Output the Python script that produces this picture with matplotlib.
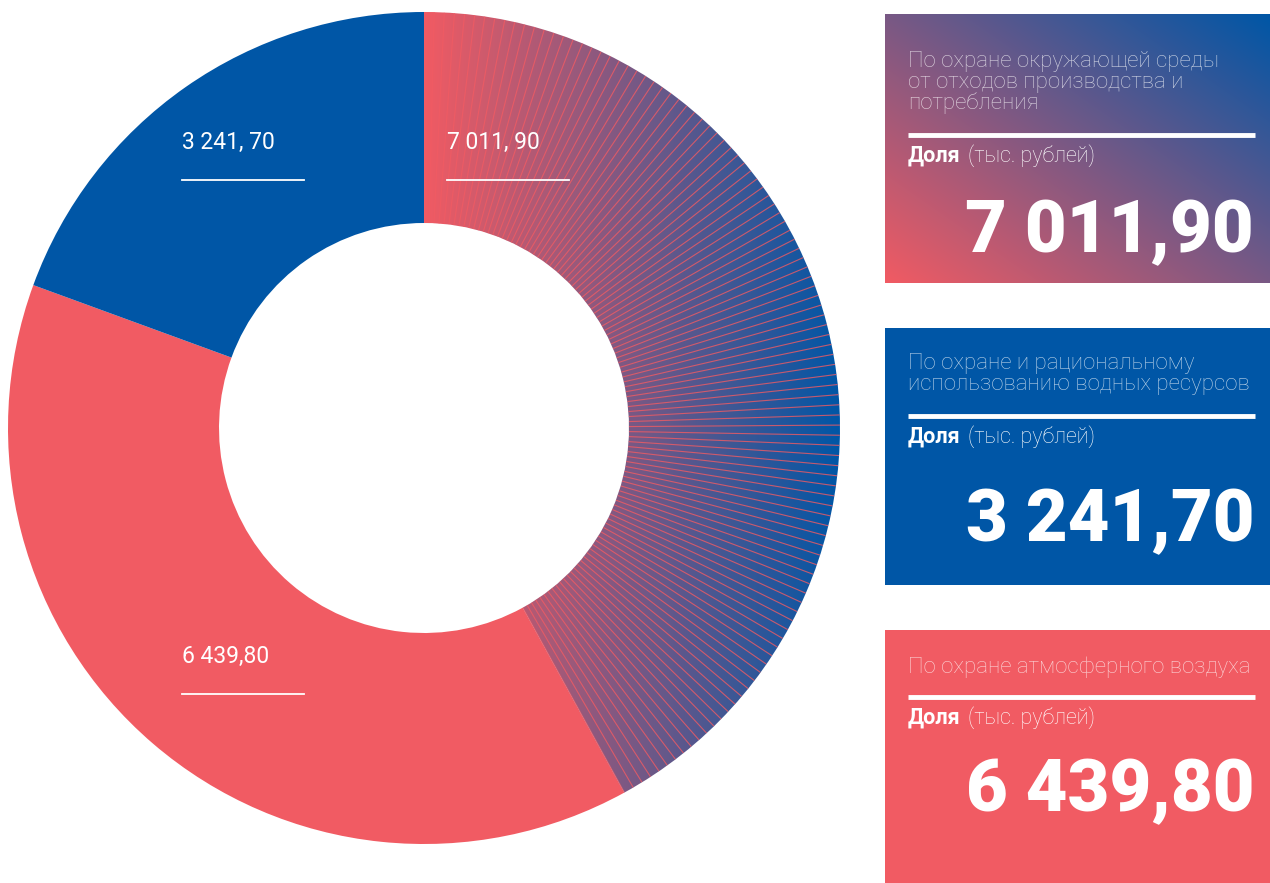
import matplotlib
matplotlib.use('Agg')
import matplotlib.pyplot as plt
import numpy as np
from matplotlib.patches import Wedge, Rectangle
from matplotlib.collections import LineCollection
from matplotlib.colors import to_rgb

# data
categories = ['По охране окружающей среды\nот отходов производства и\nпотребления',
              'По охране атмосферного воздуха',
              'По охране и рациональному\nиспользованию водных ресурсов']
values = [7011.90, 6439.80, 3241.70]
ring_labels = ['7 011, 90', '6 439,80', '3 241, 70']
box_order = [0, 2, 1]  # boxes on the right, top to bottom

RED = '#f15b63'
BLUE = '#0056a6'
W, H = 1270, 883
cx, cy = 424, 428
r_out, r_in = 416, 205


def fmt(v):
    return '{:,.2f}'.format(v).replace(',', ' ').replace('.', ',')


def blend(t):
    a, b = np.array(to_rgb(RED)), np.array(to_rgb(BLUE))
    t = np.clip(t, 0, 1)[..., None]
    return a * (1 - t) + b * t


fig = plt.figure(figsize=(W / 100, H / 100), dpi=100)
ax = fig.add_axes([0, 0, 1, 1])
ax.axis('off')

# donut, clockwise from top (y axis is inverted -> data angles grow clockwise)
total = sum(values)
angles = np.cumsum([0] + [v / total * 360 for v in values])
seg_colors = [None, RED, BLUE]
wedges = []
for i, v in enumerate(values):
    w = Wedge((cx, cy), r_out, -90 + angles[i], -90 + angles[i + 1], width=r_out - r_in,
              facecolor=seg_colors[i] if seg_colors[i] else 'none', edgecolor='none')
    ax.add_patch(w)
    wedges.append(w)

# gradient fill for the first segment
grad = blend(np.linspace(0, 1, 256))[None, :, :]
im = ax.imshow(grad, extent=(cx, cx + r_out, cy + r_out, cy - r_out), origin='upper',
               aspect='auto', interpolation='bilinear', zorder=1)
im.set_clip_path(wedges[0])
th = np.deg2rad(np.arange(-90 + angles[0], -90 + angles[1], 1.4))
segs = [[(cx + r_in * np.cos(t), cy + r_in * np.sin(t)),
         (cx + r_out * np.cos(t), cy + r_out * np.sin(t))] for t in th]
lc = LineCollection(segs, colors=RED, linewidths=0.8, alpha=0.8, zorder=2)
ax.add_collection(lc)
lc.set_clip_path(wedges[0])

# ring labels
label_pos = [(447, 142), (182, 656), (182, 142)]
for (x, y), txt in zip(label_pos, ring_labels):
    ax.text(x, y, txt, color='white', fontsize=16.5, family='Roboto', fontweight='normal',
            ha='left', va='center', zorder=5)
    ax.plot([x, x + 122], [y + 38, y + 38], color='white', lw=1.3, zorder=5)

# right boxes: (top, bottom, title top, rule y, value centre)
boxes = [(14, 283, 51, 135, 233), (328, 585, 353, 416, 522), (630, 883, 656, 697, 792)]
box_fill = [None, BLUE, RED]
for (y0, y1, ty, ly, vy), idx, fill in zip(boxes, box_order, box_fill):
    if fill is None:
        yy, xx = np.mgrid[0:1:120j, 0:1:180j]
        g = blend((xx + (1 - yy)) / 2)
        ax.imshow(g, extent=(885, W, y1, y0), origin='upper', aspect='auto',
                  interpolation='bilinear', zorder=1)
    else:
        ax.add_patch(Rectangle((885, y0), W - 885, y1 - y0, facecolor=fill, edgecolor='none'))
    ax.text(908, ty, categories[idx], color='white', alpha=0.72, fontsize=16,
            family='Roboto', fontweight='light', ha='left', va='top', linespacing=0.97)
    ax.plot([908, 1255], [ly, ly], color='white', lw=3.5, solid_capstyle='butt')
    ax.text(908, ly + 21, 'Доля', color='white', fontsize=15.5, family='Roboto',
            fontweight='bold', ha='left', va='center')
    ax.text(968, ly + 21, '(тыс. рублей)', color='white', fontsize=15.5, family='Roboto',
            fontweight='light', ha='left', va='center')
    ax.text(1254, vy, fmt(values[idx]), color='white', fontsize=52, family='Roboto',
            fontweight='black', ha='right', va='center')

ax.set_xlim(0, W)
ax.set_ylim(H, 0)
fig.savefig('out.png', dpi=100, facecolor='white')
